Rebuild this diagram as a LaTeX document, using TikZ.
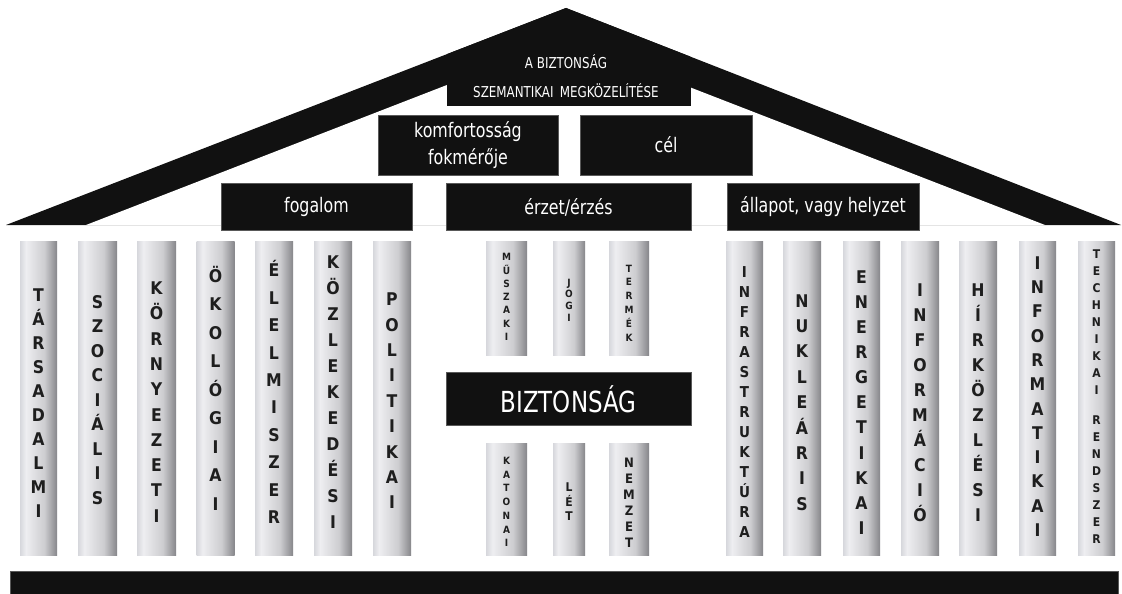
\documentclass[tikz,border=0pt]{standalone}
\usepackage{fontspec}
\setmainfont{DejaVu Sans Condensed}
\newfontfamily\cond[FakeStretch=0.88]{DejaVu Sans Condensed}
\definecolor{ink}{HTML}{111111}
\definecolor{pA}{HTML}{D6D7DC}
\definecolor{pB}{HTML}{EEEEF1}
\definecolor{pC}{HTML}{CDCDD0}
\definecolor{pD}{HTML}{86868A}
\definecolor{txt}{HTML}{1E1E1E}
% pillar shading: light on the left, dark on the right
\pgfdeclarehorizontalshading{pillarshade}{100bp}{color(0bp)=(pA); color(25bp)=(pA); color(33bp)=(pB); color(58bp)=(pC); color(75bp)=(pD); color(100bp)=(pD)}
\tikzset{
  blk/.style={fill=ink, draw=black!65, line width=0.6pt},
  boxtxt/.style={text=white, align=center, inner sep=0pt, font=\cond\fontsize{#1}{1.35\dimexpr#1pt\relax}\selectfont},
  pillar/.style 2 args={shading=pillarshade, draw=none, inner sep=0pt, minimum width=#1, minimum height=#2},
  letters/.style 2 args={text=txt, align=center, inner sep=0pt, font=\bfseries\fontsize{#1}{#2}\selectfont},
}
\begin{document}
\begin{tikzpicture}[x=1pt, y=-1pt]
\useasboundingbox (0,0) rectangle (1122,594);
\fill[white] (0,0) rectangle (1122,594);

% roof: outer triangle with the inner triangle cut away
\coordinate (apex) at (566,8);
\coordinate (lfoot) at (6,225);
\coordinate (rfoot) at (1121,225);
\coordinate (ilfoot) at (86,225);
\coordinate (irfoot) at (1045,225);
\coordinate (iapex) at (565.5,39);
\fill[ink] (lfoot) -- (apex) -- (rfoot) -- cycle;
\fill[white] (ilfoot) -- (iapex) -- (irfoot) -- cycle;

% gable box, merged into the roof
\begin{scope}
  \clip (lfoot) -- (apex) -- (rfoot) -- cycle;
  \fill[ink] (447,0) rectangle (691,106);
\end{scope}
\node[boxtxt=15] (gable1) at (566,62) {A BIZTONSÁG};
\node[boxtxt=15] (gable2) at (566,91) {SZEMANTIKAI\, MEGKÖZELÍTÉSE};

% second row
\node[blk, minimum width=180pt, minimum height=60pt, inner sep=0pt] (komf) at (468,145) {};
\node[boxtxt=20] at (komf) {komfortosság\\fokmérője};
\node[blk, minimum width=172pt, minimum height=60pt, inner sep=0pt] (cel) at (666,145) {};
\node[boxtxt=20] at (cel) {cél};

% third row
\node[blk, minimum width=191pt, minimum height=47pt, inner sep=0pt] (fogalom) at (316.5,207) {};
\node[boxtxt=20] at (fogalom) {fogalom};
\node[blk, minimum width=245pt, minimum height=47pt, inner sep=0pt] (erzet) at (568.5,207) {};
\node[boxtxt=20] at (erzet) {érzet/érzés};
\node[blk, minimum width=192pt, minimum height=47pt, inner sep=0pt] (allapot) at (823,207) {};
\node[boxtxt=20] at (allapot) {állapot, vagy helyzet};

% left pillars
\node[pillar={37pt}{314pt}] (p1) at (38.5,398) {};
\node[letters={17.5}{24}] at (38.5,403) {T\\Á\\R\\S\\A\\D\\A\\L\\M\\I};
\node[pillar={39pt}{314pt}] (p2) at (97.5,398) {};
\node[letters={17.5}{24.5}] at (97.5,400) {S\\Z\\O\\C\\I\\Á\\L\\I\\S};
\node[pillar={39pt}{314pt}] (p3) at (156.5,398) {};
\node[letters={17.5}{25.3}] at (156.5,402) {K\\Ö\\R\\N\\Y\\E\\Z\\E\\T\\I};
\node[pillar={38pt}{314pt}] (p4) at (215.5,398) {};
\node[letters={17.5}{28.5}] at (215.5,388) {Ö\\K\\O\\L\\Ó\\G\\I\\A\\I};
\node[pillar={38pt}{314pt}] (p5) at (274,398) {};
\node[letters={17.5}{27.4}] at (274,392) {É\\L\\E\\L\\M\\I\\S\\Z\\E\\R};
\node[pillar={38pt}{314pt}] (p6) at (333,398) {};
\node[letters={17.5}{26}] at (333,392) {K\\Ö\\Z\\L\\E\\K\\E\\D\\É\\S\\I};
\node[pillar={38pt}{314pt}] (p7) at (392,398) {};
\node[letters={17.5}{25.4}] at (392,401) {P\\O\\L\\I\\T\\I\\K\\A\\I};

% central pillars
\node[pillar={41pt}{114pt}] (m1) at (506.5,298) {};
\node[letters={10}{13.3}] at (506.5,297) {M\\Ű\\S\\Z\\A\\K\\I};
\node[pillar={32pt}{114pt}] (m2) at (569,298) {};
\node[letters={10}{11.7}] at (569,300) {J\\O\\G\\I};
\node[pillar={40pt}{114pt}] (m3) at (629,298) {};
\node[letters={10}{13.8}] at (629,303) {T\\E\\R\\M\\É\\K};

\node[blk, minimum width=245pt, minimum height=53pt, inner sep=0pt] (bizt) at (568.5,399) {};
\node[boxtxt=29] at (bizt) {BIZTONSÁG};

\node[pillar={41pt}{112pt}] (m4) at (506.5,499) {};
\node[letters={10}{13.7}] at (506.5,502) {K\\A\\T\\O\\N\\A\\I};
\node[pillar={32pt}{112pt}] (m5) at (569,499) {};
\node[letters={12}{14.5}] at (569,502) {L\\É\\T};
\node[pillar={40pt}{112pt}] (m6) at (629,499) {};
\node[letters={13}{16}] at (629,503) {N\\E\\M\\Z\\E\\T};

% right pillars
\node[pillar={37pt}{314pt}] (p8) at (744.5,398) {};
\node[letters={15}{20}] at (744.5,402) {I\\N\\F\\R\\A\\S\\T\\R\\U\\K\\T\\Ú\\R\\A};
\node[pillar={38pt}{314pt}] (p9) at (802,398) {};
\node[letters={17.5}{25.4}] at (802,402.5) {N\\U\\K\\L\\E\\Á\\R\\I\\S};
\node[pillar={37pt}{314pt}] (p10) at (861.5,398) {};
\node[letters={17.5}{25.1}] at (861.5,402.5) {E\\N\\E\\R\\G\\E\\T\\I\\K\\A\\I};
\node[pillar={38pt}{314pt}] (p11) at (920,398) {};
\node[letters={17.5}{25}] at (920,402.5) {I\\N\\F\\O\\R\\M\\Á\\C\\I\\Ó};
\node[pillar={38pt}{314pt}] (p12) at (978,398) {};
\node[letters={17.5}{25}] at (978,402.5) {H\\Í\\R\\K\\Ö\\Z\\L\\É\\S\\I};
\node[pillar={37pt}{314pt}] (p13) at (1037.5,398) {};
\node[letters={17.5}{24.3}] at (1037.5,396.5) {I\\N\\F\\O\\R\\M\\A\\T\\I\\K\\A\\I};
\node[pillar={37pt}{314pt}] (p14) at (1096.5,398) {};
\node[letters={12}{17}] at (1096.5,397) {T\\E\\C\\H\\N\\I\\K\\A\\I\\[13pt]R\\E\\N\\D\\S\\Z\\E\\R};

% base
\path[blk] (10,571) rectangle (1118,600);
\end{tikzpicture}
\end{document}
